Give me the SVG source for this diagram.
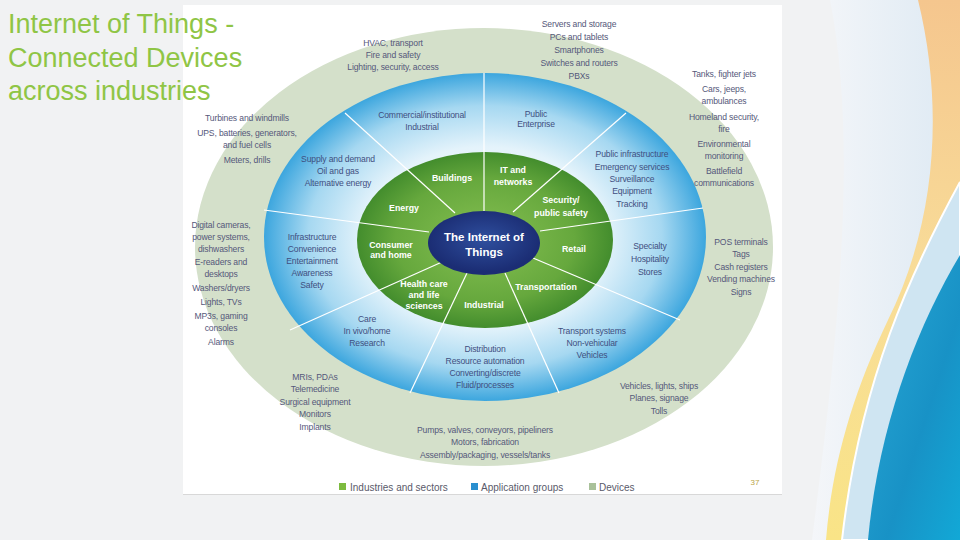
<svg xmlns="http://www.w3.org/2000/svg" width="960" height="540" viewBox="0 0 960 540">
<defs>
<style>
.title{font-family:"Liberation Sans",Arial,sans-serif;font-size:27px;fill:#8fc545}
.dev{font-family:"Liberation Sans",Arial,sans-serif;font-size:8.6px;fill:#55587a;text-anchor:middle;letter-spacing:-0.15px}
.app{font-family:"Liberation Sans",Arial,sans-serif;font-size:8.6px;fill:#3f4f80;text-anchor:middle;letter-spacing:-0.15px}
.ind{font-family:"Liberation Sans",Arial,sans-serif;font-size:8.8px;font-weight:bold;fill:#ffffff;text-anchor:middle}
.core{font-family:"Liberation Sans",Arial,sans-serif;font-size:11.5px;font-weight:bold;fill:#ffffff;text-anchor:middle}
.leg{font-family:"Liberation Sans",Arial,sans-serif;font-size:10px;fill:#5a5a6a}
.div{stroke:#ffffff;stroke-width:1.2;fill:none}
</style>
<radialGradient id="gBlue" cx="0.5" cy="0.5" r="0.5">
<stop offset="0" stop-color="#ffffff"/>
<stop offset="0.55" stop-color="#e4f3fb"/>
<stop offset="0.8" stop-color="#a6d8f1"/>
<stop offset="1" stop-color="#3ca6de"/>
</radialGradient>
<radialGradient id="gGreen" cx="0.5" cy="0.5" r="0.5">
<stop offset="0" stop-color="#86c052"/>
<stop offset="0.7" stop-color="#66a83d"/>
<stop offset="1" stop-color="#438d2d"/>
</radialGradient>
<radialGradient id="gCore" cx="0.5" cy="0.45" r="0.5">
<stop offset="0" stop-color="#2f4f9e"/>
<stop offset="1" stop-color="#1b2d74"/>
</radialGradient>
<linearGradient id="gBand" x1="0" y1="0" x2="0" y2="1">
<stop offset="0" stop-color="#f5c68e"/>
<stop offset="0.5" stop-color="#f8dc98"/>
<stop offset="1" stop-color="#f9e487"/>
</linearGradient>
<linearGradient id="gTeal" x1="0" y1="0" x2="1" y2="1">
<stop offset="0" stop-color="#2aa9d6"/>
<stop offset="0.6" stop-color="#1892c6"/>
<stop offset="1" stop-color="#12a8d6"/>
</linearGradient>
<linearGradient id="gPale" x1="0" y1="0" x2="1" y2="0">
<stop offset="0" stop-color="#f4f6f9"/>
<stop offset="1" stop-color="#dde9f3"/>
</linearGradient>
</defs>

<rect x="0" y="0" width="960" height="540" fill="#f1f2f3"/>
<path d="M830 0 C860 150 835 360 812 540 L960 540 L960 0 Z" fill="url(#gPale)"/>
<path d="M918 0 C945 110 935 225 888 320 C852 395 832 465 826 540 L960 540 L960 0 Z" fill="url(#gBand)"/>
<path d="M960 182 C912 270 860 380 842 540 L960 540 Z" fill="#cfe5f2" stroke="#ffffff" stroke-width="2"/>
<path d="M960 255 C915 330 878 430 868 540 L960 540 Z" fill="url(#gTeal)"/>

<rect x="183" y="5" width="599" height="489" fill="#ffffff"/>
<line x1="183" y1="494.5" x2="782" y2="494.5" stroke="#d8d8d8" stroke-width="1"/>

<g id="title">
<text class="title" x="8" y="33">Internet of Things -</text>
<text class="title" x="8" y="67">Connected Devices</text>
<text class="title" x="8" y="100">across industries</text>
</g>

<g id="rings">
<ellipse cx="484" cy="247" rx="289" ry="219" fill="#d4e0ca"/>
<ellipse cx="485" cy="237" rx="221" ry="164" fill="url(#gBlue)"/>
<ellipse cx="485" cy="240" rx="128" ry="88" fill="url(#gGreen)"/>
</g>

<g id="connectors">
<line class="div" x1="455" y1="213" x2="345" y2="113"/>
<line class="div" x1="484" y1="211" x2="484" y2="73"/>
<line class="div" x1="513" y1="212" x2="626" y2="113"/>
<line class="div" x1="540" y1="231" x2="703" y2="208"/>
<line class="div" x1="533" y1="258" x2="680" y2="320"/>
<line class="div" x1="505" y1="273" x2="559" y2="393"/>
<line class="div" x1="467" y1="273" x2="410" y2="393"/>
<line class="div" x1="442" y1="262" x2="290" y2="330"/>
<line class="div" x1="429" y1="232" x2="264" y2="210"/>
</g>

<g id="core">
<ellipse cx="484" cy="243" rx="56" ry="32" fill="url(#gCore)"/>
<text class="core" x="484" y="241">The Internet of</text>
<text class="core" x="484" y="256">Things</text>
</g>

<g id="ind-buildings"><text class="ind" x="452" y="181">Buildings</text></g>
<g id="ind-it"><text class="ind" x="513" y="173">IT and</text><text class="ind" x="513" y="185">networks</text></g>
<g id="ind-energy"><text class="ind" x="404" y="211">Energy</text></g>
<g id="ind-security"><text class="ind" x="561" y="203">Security/</text><text class="ind" x="561" y="216">public safety</text></g>
<g id="ind-consumer"><text class="ind" x="391" y="248">Consumer</text><text class="ind" x="391" y="258">and home</text></g>
<g id="ind-retail"><text class="ind" x="574" y="252">Retail</text></g>
<g id="ind-health"><text class="ind" x="424" y="287">Health care</text><text class="ind" x="424" y="298">and life</text><text class="ind" x="424" y="309">sciences</text></g>
<g id="ind-industrial"><text class="ind" x="484" y="308">Industrial</text></g>
<g id="ind-transportation"><text class="ind" x="546" y="290">Transportation</text></g>

<g id="app-buildings"><text class="app" x="422" y="118">Commercial/institutional</text><text class="app" x="422" y="130">Industrial</text></g>
<g id="app-it"><text class="app" x="536" y="117">Public</text><text class="app" x="536" y="127">Enterprise</text></g>
<g id="app-energy"><text class="app" x="338" y="162">Supply and demand</text><text class="app" x="338" y="174">Oil and gas</text><text class="app" x="338" y="186">Alternative energy</text></g>
<g id="app-security"><text class="app" x="632" y="157">Public infrastructure</text><text class="app" x="632" y="170">Emergency services</text><text class="app" x="632" y="182">Surveillance</text><text class="app" x="632" y="194">Equipment</text><text class="app" x="632" y="207">Tracking</text></g>
<g id="app-consumer"><text class="app" x="312" y="240">Infrastructure</text><text class="app" x="312" y="252">Convenience</text><text class="app" x="312" y="264">Entertainment</text><text class="app" x="312" y="276">Awareness</text><text class="app" x="312" y="288">Safety</text></g>
<g id="app-retail"><text class="app" x="650" y="249">Specialty</text><text class="app" x="650" y="262">Hospitality</text><text class="app" x="650" y="275">Stores</text></g>
<g id="app-health"><text class="app" x="367" y="322">Care</text><text class="app" x="367" y="334">In vivo/home</text><text class="app" x="367" y="346">Research</text></g>
<g id="app-transportation"><text class="app" x="592" y="334">Transport systems</text><text class="app" x="592" y="346">Non-vehicular</text><text class="app" x="592" y="358">Vehicles</text></g>
<g id="app-industrial"><text class="app" x="485" y="352">Distribution</text><text class="app" x="485" y="364">Resource automation</text><text class="app" x="485" y="376">Converting/discrete</text><text class="app" x="485" y="388">Fluid/processes</text></g>

<g id="dev-it"><text class="dev" x="579" y="27">Servers and storage</text><text class="dev" x="579" y="40">PCs and tablets</text><text class="dev" x="579" y="53">Smartphones</text><text class="dev" x="579" y="66">Switches and routers</text><text class="dev" x="579" y="79">PBXs</text></g>
<g id="dev-buildings"><text class="dev" x="393" y="46">HVAC, transport</text><text class="dev" x="393" y="58">Fire and safety</text><text class="dev" x="393" y="70">Lighting, security, access</text></g>
<g id="dev-security"><text class="dev" x="724" y="77">Tanks, fighter jets</text><text class="dev" x="724" y="92">Cars, jeeps,</text><text class="dev" x="724" y="104">ambulances</text><text class="dev" x="724" y="120">Homeland security,</text><text class="dev" x="724" y="132">fire</text><text class="dev" x="724" y="147">Environmental</text><text class="dev" x="724" y="159">monitoring</text><text class="dev" x="724" y="174">Battlefield</text><text class="dev" x="724" y="186">communications</text></g>
<g id="dev-energy"><text class="dev" x="247" y="121">Turbines and windmills</text><text class="dev" x="247" y="136">UPS, batteries, generators,</text><text class="dev" x="247" y="148">and fuel cells</text><text class="dev" x="247" y="163">Meters, drills</text></g>
<g id="dev-consumer"><text class="dev" x="221" y="228">Digital cameras,</text><text class="dev" x="221" y="240">power systems,</text><text class="dev" x="221" y="252">dishwashers</text><text class="dev" x="221" y="265">E-readers and</text><text class="dev" x="221" y="277">desktops</text><text class="dev" x="221" y="291">Washers/dryers</text><text class="dev" x="221" y="305">Lights, TVs</text><text class="dev" x="221" y="319">MP3s, gaming</text><text class="dev" x="221" y="331">consoles</text><text class="dev" x="221" y="345">Alarms</text></g>
<g id="dev-retail"><text class="dev" x="741" y="245">POS terminals</text><text class="dev" x="741" y="257">Tags</text><text class="dev" x="741" y="270">Cash registers</text><text class="dev" x="741" y="282">Vending machines</text><text class="dev" x="741" y="295">Signs</text></g>
<g id="dev-health"><text class="dev" x="315" y="380">MRIs, PDAs</text><text class="dev" x="315" y="392">Telemedicine</text><text class="dev" x="315" y="405">Surgical equipment</text><text class="dev" x="315" y="417">Monitors</text><text class="dev" x="315" y="430">Implants</text></g>
<g id="dev-transportation"><text class="dev" x="659" y="389">Vehicles, lights, ships</text><text class="dev" x="659" y="401">Planes, signage</text><text class="dev" x="659" y="414">Tolls</text></g>
<g id="dev-industrial"><text class="dev" x="485" y="433">Pumps, valves, conveyors, pipeliners</text><text class="dev" x="485" y="445">Motors, fabrication</text><text class="dev" x="485" y="458">Assembly/packaging, vessels/tanks</text></g>

<g id="legend">
<rect x="339" y="483" width="7" height="7" fill="#7dbb3f"/>
<text class="leg" x="350" y="491">Industries and sectors</text>
<rect x="471" y="483" width="7" height="7" fill="#2a8fcf"/>
<text class="leg" x="481" y="491">Application groups</text>
<rect x="589" y="483" width="7" height="7" fill="#a9c19a"/>
<text class="leg" x="599" y="491">Devices</text>
</g>
<text x="755" y="485" font-family="Liberation Sans, Arial, sans-serif" font-size="8px" fill="#b9a448" text-anchor="middle">37</text>
</svg>
